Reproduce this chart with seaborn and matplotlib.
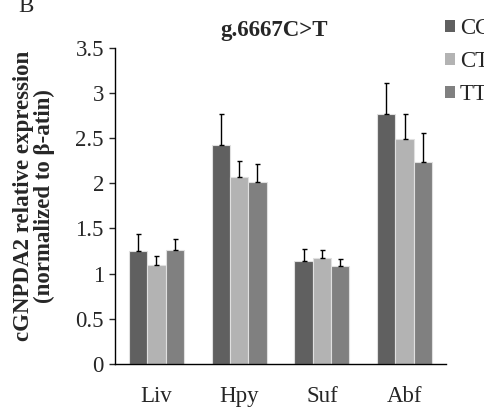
import numpy as np
import pandas as pd
import matplotlib
matplotlib.use("Agg")
import matplotlib.pyplot as plt
import seaborn as sns
from matplotlib.patches import Patch

tissues = ["Liv", "Hpy", "Suf", "Abf"]
genotypes = ["CC", "CT", "TT"]
cc_mean = [1.25, 2.42, 1.14, 2.77]
ct_mean = [1.10, 2.07, 1.17, 2.49]
tt_mean = [1.26, 2.01, 1.08, 2.24]
cc_err = [0.19, 0.34, 0.13, 0.34]
ct_err = [0.10, 0.18, 0.09, 0.28]
tt_err = [0.12, 0.20, 0.08, 0.31]
yticks = [0, 0.5, 1, 1.5, 2, 2.5, 3, 3.5]
palette = ["#606060", "#b3b3b3", "#808080"]

df = pd.DataFrame({
    "tissue": tissues * 3,
    "genotype": np.repeat(genotypes, len(tissues)),
    "value": cc_mean + ct_mean + tt_mean,
    "err": cc_err + ct_err + tt_err,
})

sns.set_style("white")
plt.rcParams["font.family"] = ["Liberation Serif", "DejaVu Serif"]
fs = 16.5

fig = plt.figure(figsize=(4.85, 4.11), dpi=100)
ax = fig.add_axes([115 / 485, 1 - 364 / 411, 331 / 485, (364 - 47.6) / 411])

sns.barplot(data=df, x="tissue", y="value", hue="genotype", order=tissues,
            hue_order=genotypes, palette=palette, width=0.665, gap=0,
            errorbar=None, edgecolor="#e0e0e0", linewidth=0.8,
            saturation=1, legend=False, ax=ax)

# upward-only error bars, placed at the centre of each drawn bar
bars = ax.patches
for bar, (_, row) in zip(bars, df.iterrows()):
    xc = bar.get_x() + bar.get_width() / 2
    ax.errorbar(xc, row["value"], yerr=[[0], [row["err"]]], fmt="none",
                ecolor="black", elinewidth=1, capsize=1.8, capthick=1)

ax.set_xlim(-0.5, 3.5)
ax.set_ylim(0, 3.5)
ax.set_yticks(yticks)
ax.set_yticklabels([f"{t:g}" for t in yticks])
ax.set_xlabel("")
ax.set_ylabel("")
ax.set_title("g.6667C>T", fontweight="bold", fontsize=fs, x=0.48, pad=8.5)

fig.text(34 / 485, 1 - 196 / 411,
         "cGNPDA2 relative expression\n(normalized to β-atin)",
         rotation=90, ha="center", va="center", multialignment="center",
         fontweight="bold", fontsize=fs, linespacing=1.0)

for s in ["top", "right"]:
    ax.spines[s].set_visible(False)
for s in ["left", "bottom"]:
    ax.spines[s].set_color("black")
    ax.spines[s].set_linewidth(1.0)
ax.tick_params(axis="y", direction="out", length=4, width=1, pad=4,
               left=True, labelsize=fs)
ax.tick_params(axis="x", length=0, pad=16, labelsize=fs)

handles = [Patch(facecolor=c, edgecolor="none") for c in palette]
fig.legend(handles, genotypes, loc="upper left",
           bbox_to_anchor=(445 / 485, 1 - 18 / 411), frameon=False,
           handlelength=0.45, handleheight=0.45, handletextpad=0.2,
           labelspacing=0.52, fontsize=fs, borderaxespad=0, borderpad=0)

fig.text(18 / 485, 1 - 12 / 411, "B", fontsize=fs, va="baseline")

fig.savefig("out.png", dpi=100)
